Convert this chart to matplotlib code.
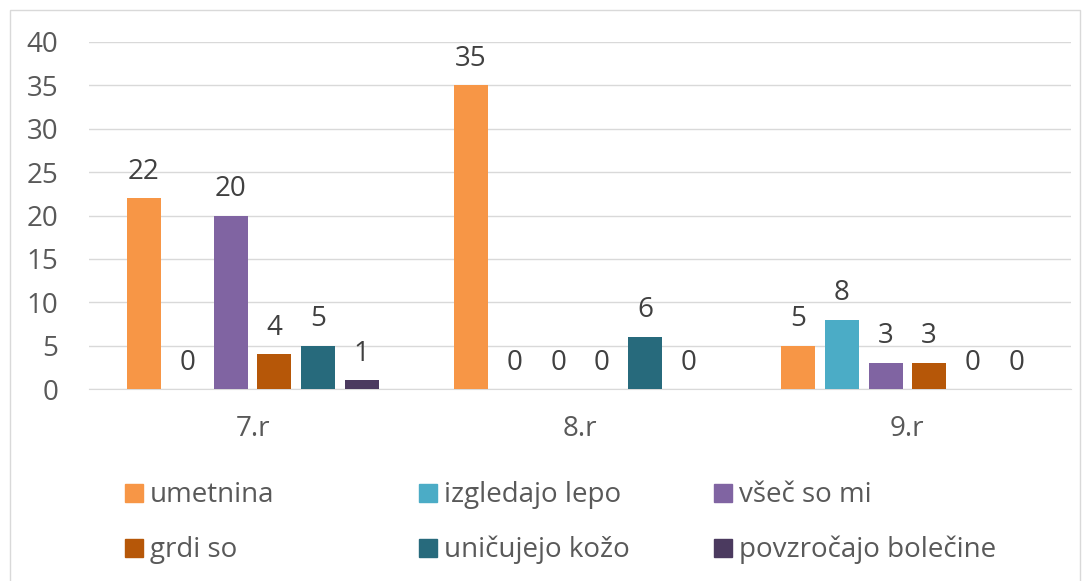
import matplotlib.pyplot as plt
from matplotlib.patches import Rectangle
import numpy as np

plt.rcParams['font.family'] = ['Open Sans', 'DejaVu Sans']

groups = ['7.r', '8.r', '9.r']
series = ['umetnina', 'izgledajo lepo', 'všeč so mi',
          'grdi so', 'uničujejo kožo', 'povzročajo bolečine']
values = [
    [22, 35, 5],
    [0, 0, 8],
    [20, 0, 3],
    [4, 0, 3],
    [5, 6, 0],
    [1, 0, 0],
]
colors = ['#F79646', '#4BACC6', '#8064A2', '#B65708', '#276A7C', '#4B3A5F']

W, H = 1088, 581
fig = plt.figure(figsize=(W / 100, H / 100), dpi=100)
fig.patches.append(Rectangle((9.5 / W, -0.1), 1070 / W, 1 - 10 / H + 0.1,
                             transform=fig.transFigure, fill=False,
                             edgecolor='#D9D9D9', linewidth=1))

ax = fig.add_axes([89 / W, 1 - 389 / H, 982 / W, 347 / H])

x = np.arange(len(groups))
step = 0.1331
width = 0.1038
for i, (name, vals) in enumerate(zip(series, values)):
    bars = ax.bar(x + (i - 2.5) * step, vals, width, color=colors[i], zorder=3)
    ax.bar_label(bars, padding=9, fontsize=20, color='#404040')

ax.set_xlim(-0.5, 2.5)
ax.set_ylim(0, 40)
ax.set_yticks(range(0, 41, 5))
ax.set_xticks(x)
ax.set_xticklabels(groups)
ax.tick_params(axis='both', length=0, labelsize=20, labelcolor='#595959')
ax.tick_params(axis='y', pad=22)
ax.tick_params(axis='x', pad=19)
ax.grid(axis='y', color='#D9D9D9', linewidth=1, zorder=0)
for s in ['top', 'right', 'left']:
    ax.spines[s].set_visible(False)
ax.spines['bottom'].set_color('#D9D9D9')

# legend, two rows of three
col_x = [125, 419, 714]
row_y = [493, 548]
for i, name in enumerate(series):
    cx = col_x[i % 3]
    cy = row_y[i // 3]
    fig.patches.append(Rectangle((cx / W, 1 - (cy + 9) / H), 18 / W, 18 / H,
                                 transform=fig.transFigure, color=colors[i]))
    fig.text((cx + 25) / W, 1 - (cy + 2) / H, name, fontsize=20,
             color='#595959', va='center', ha='left')

fig.savefig('out.png', dpi=100)
